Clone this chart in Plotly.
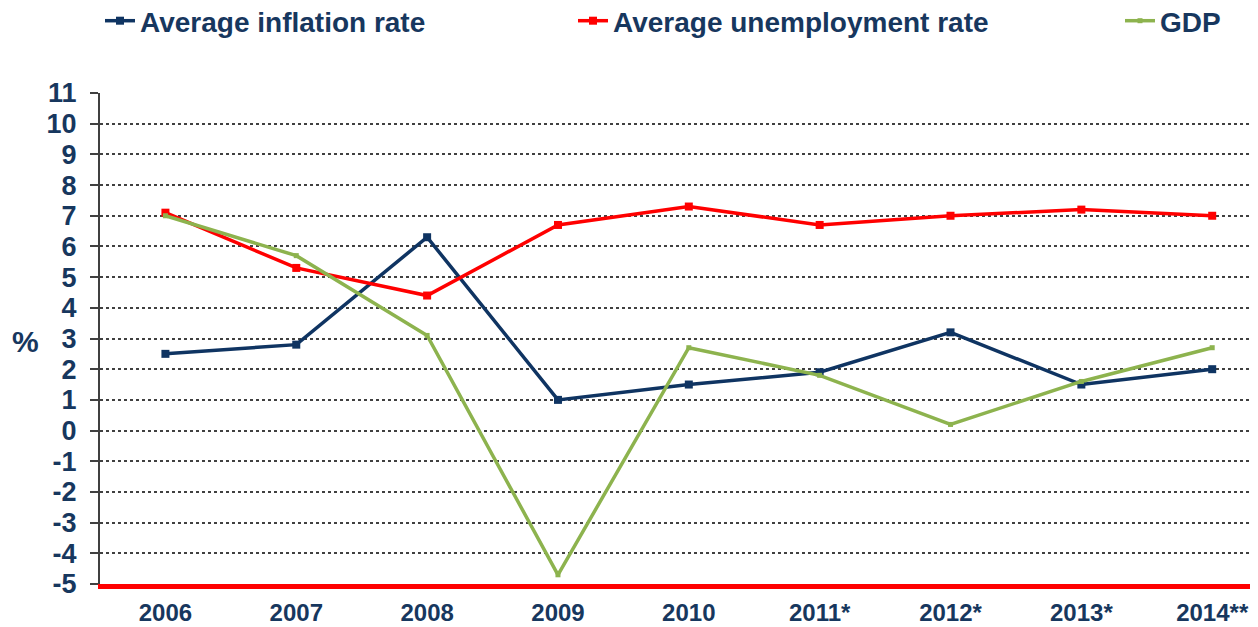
import plotly.graph_objects as go

years = ["2006", "2007", "2008", "2009", "2010", "2011*", "2012*", "2013*", "2014**"]
inflation = [2.5, 2.8, 6.3, 1.0, 1.5, 1.9, 3.2, 1.5, 2.0]
unemployment = [7.1, 5.3, 4.4, 6.7, 7.3, 6.7, 7.0, 7.2, 7.0]
gdp = [7.0, 5.7, 3.1, -4.7, 2.7, 1.8, 0.2, 1.6, 2.7]
y_ticks = list(range(-5, 12))
y_ticktext = [str(v) for v in y_ticks]

TEXT = "#17375E"
FONT = "Liberation Sans"

fig = go.Figure()
fig.add_trace(go.Scatter(x=years, y=inflation, name="Average inflation rate",
                         mode="lines+markers", line=dict(color="#0F3462", width=3.5),
                         marker=dict(symbol="square", size=8, color="#0F3462"),
                         legend="legend"))
fig.add_trace(go.Scatter(x=years, y=unemployment, name="Average unemployment rate",
                         mode="lines+markers", line=dict(color="#FF0000", width=3.5),
                         marker=dict(symbol="square", size=8, color="#FF0000"),
                         legend="legend2"))
fig.add_trace(go.Scatter(x=years, y=gdp, name="GDP",
                         mode="lines+markers", line=dict(color="#8DB34E", width=3.5),
                         marker=dict(symbol="square", size=5, color="#8DB34E"),
                         legend="legend3"))

legend_font = dict(family=FONT, size=28, color=TEXT, weight="bold")
LEG_Y = 1 + (93 - 21) / 491
common_leg = dict(orientation="h", xref="paper", yref="paper",
                  yanchor="middle", xanchor="left", font=legend_font,
                  bgcolor="rgba(0,0,0,0)")

def px(xpix):
    return (xpix - 100) / 1158

fig.update_layout(
    width=1258, height=627,
    margin=dict(l=92, r=8, t=85, b=51, autoexpand=False),
    plot_bgcolor="white", paper_bgcolor="white",
    font=dict(family=FONT, color=TEXT),
    showlegend=True,
    legend=dict(**common_leg, x=px(100), y=LEG_Y),
    legend2=dict(**common_leg, x=px(573), y=LEG_Y),
    legend3=dict(**common_leg, x=px(1120), y=LEG_Y),
    xaxis=dict(type="category", range=[-0.5, 8.35], showgrid=False, automargin=False,
               showline=True, linecolor="#FF0000", linewidth=5,
               ticks="", tickfont=dict(family=FONT, size=24, color=TEXT, weight="bold"),
               ticklabelstandoff=3),
    yaxis=dict(range=[-5, 11], tickvals=y_ticks, ticktext=y_ticktext, showgrid=True,
               automargin=False,
               gridcolor="#404040", gridwidth=2, griddash="dot",
               showline=True, linecolor="#404040", linewidth=2,
               ticks="outside", ticklen=8, tickcolor="#404040", tickwidth=2,
               tickfont=dict(family=FONT, size=27, color=TEXT, weight="bold"),
               zeroline=False, ticklabelstandoff=8),
    annotations=[dict(text="%", xref="paper", yref="y", x=px(25), y=2.9,
                      showarrow=False, xanchor="center", yanchor="middle",
                      font=dict(family=FONT, size=30, color=TEXT, weight="bold"))],
)

fig.write_html("out.html")
